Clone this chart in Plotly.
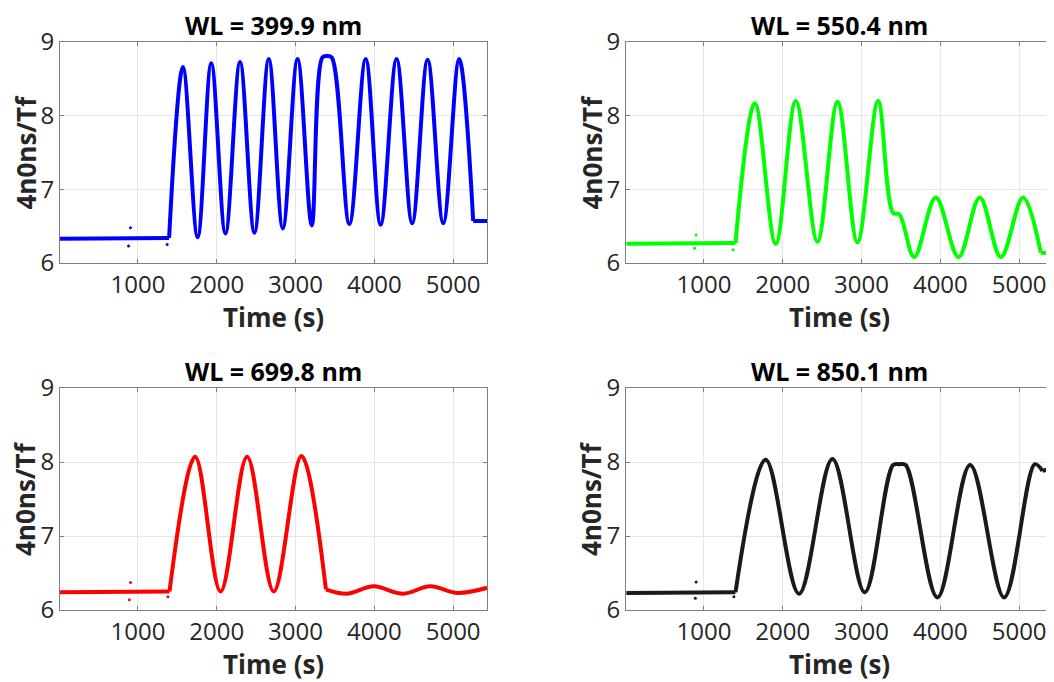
import plotly.graph_objects as go

# ---------------- data ----------------
titles = ["WL = 399.9 nm", "WL = 550.4 nm", "WL = 699.8 nm", "WL = 850.1 nm"]
colors = ["#0000ff", "#00ff00", "#ff0000", "#1a1a1a"]

# flat baseline before the cycling starts
base_t = [[10, 300, 600, 900, 1200, 1395],
          [15, 300, 600, 900, 1200, 1400],
          [10, 300, 600, 900, 1200, 1400],
          [15, 300, 600, 900, 1200, 1400]]
base_v = [[6.33, 6.33, 6.33, 6.33, 6.34, 6.34],
          [6.26, 6.26, 6.26, 6.26, 6.26, 6.27],
          [6.24, 6.24, 6.24, 6.24, 6.24, 6.25],
          [6.23, 6.23, 6.23, 6.23, 6.23, 6.24]]

# oscillating part: peaks and troughs
wave_t = [[1395, 1570, 1757, 1930, 2110, 2295, 2478, 2660, 2838, 3025, 3205,
           3340, 3400, 3460, 3683, 3890, 4080, 4282, 4480, 4676, 4875, 5077, 5255],
          [1400, 1645, 1910, 2165, 2440, 2695, 2948, 3210, 3400, 3480, 3668,
           3942, 4230, 4500, 4768, 5050, 5275],
          [1400, 1725, 2048, 2385, 2723, 3075, 3385],
          [1400, 1783, 2206, 2630, 3040, 3400, 3480, 3560, 3963, 4378, 4810,
           5199, 5296]]
wave_v = [[6.34, 8.66, 6.35, 8.71, 6.40, 8.73, 6.41, 8.77, 6.47, 8.77, 6.51,
           8.79, 8.81, 8.79, 6.53, 8.77, 6.52, 8.77, 6.54, 8.76, 6.54, 8.77, 6.57],
          [6.27, 8.17, 6.26, 8.20, 6.29, 8.19, 6.28, 8.20, 6.68, 6.66, 6.08,
           6.89, 6.08, 6.89, 6.08, 6.89, 6.14],
          [6.25, 8.07, 6.25, 8.07, 6.25, 8.08, 6.28],
          [6.24, 8.03, 6.22, 8.04, 6.24, 7.96, 7.97, 7.96, 6.17, 7.96, 6.17,
           7.97, 7.88]]

# what follows the last cycle
tail_t = [[5255, 5330, 5430],
          [5275, 5350, 5430],
          [3385, 3650, 3990, 4365, 4705, 5060, 5430],
          [5296, 5360, 5430]]
tail_v = [[6.57, 6.57, 6.57],
          [6.14, 6.13, 6.13],
          [6.28, 6.22, 6.32, 6.22, 6.32, 6.23, 6.30],
          [7.88, 7.90, 7.88]]
tail_shape = ["linear", "linear", "spline", "linear"]

# a few stray noise points visible near the baseline
out_t = [[905, 880, 1370], [900, 880, 1370], [905, 890, 1380], [900, 890, 1380]]
out_v = [[6.48, 6.23, 6.25], [6.38, 6.2, 6.18], [6.37, 6.14, 6.18], [6.38, 6.16, 6.18]]

y_ticks = [6, 7, 8, 9]
x_ticks = [1000, 2000, 3000, 4000, 5000]

# ---------------- layout ----------------
OFF = 8                      # page body margin
W, H = 1054 - OFF, 682 - OFF
FONT = "Open Sans"
TXT = "#262626"
# plot-area pixel boxes in window pixels (left, right, top, bottom)
boxes = [(60, 487, 42, 263), (626, 1053, 42, 263),
         (60, 487, 388, 610), (626, 1053, 388, 610)]


def px(x):
    return (x - OFF) / W


def py(y):
    return 1 - (y - OFF) / H


fig = go.Figure()
for i in range(4):
    ax = "" if i == 0 else str(i + 1)
    axes = dict(xaxis="x" + ax, yaxis="y" + ax, showlegend=False, hoverinfo="x+y")
    fig.add_trace(go.Scatter(x=base_t[i], y=base_v[i], mode="lines",
                             line=dict(color=colors[i], width=4), **axes))
    fig.add_trace(go.Scatter(x=wave_t[i], y=wave_v[i], mode="lines",
                             line=dict(color=colors[i], width=4, shape="spline", smoothing=1.0),
                             **axes))
    fig.add_trace(go.Scatter(x=tail_t[i], y=tail_v[i], mode="lines",
                             line=dict(color=colors[i], width=4, shape=tail_shape[i], smoothing=1.0),
                             **axes))
    fig.add_trace(go.Scatter(x=out_t[i], y=out_v[i], mode="markers",
                             marker=dict(color=colors[i], size=3), **axes))
    l, r, t, b = boxes[i]
    common = dict(showline=True, linecolor="#7f7f7f", linewidth=1, mirror="ticks",
                  ticks="inside", ticklen=4, tickcolor="#7f7f7f", automargin=False,
                  showgrid=True, gridcolor="#e6e6e6", gridwidth=1, zeroline=False,
                  tickfont=dict(family=FONT, size=24, color=TXT))
    fig.update_layout({
        "xaxis" + ax: dict(domain=[px(l), px(r)], range=[10, 5430],
                           tickvals=x_ticks, anchor="y" + ax, **common),
        "yaxis" + ax: dict(domain=[py(b), py(t)], range=[6, 9],
                           tickvals=y_ticks, anchor="x" + ax, **common),
    })
    cx = px((l + r) / 2)
    fig.add_annotation(text="<b>" + titles[i] + "</b>", xref="paper", yref="paper",
                       x=cx, y=py(t - 17), showarrow=False,
                       xanchor="center", yanchor="middle",
                       font=dict(family=FONT, size=25, color="black"))
    fig.add_annotation(text="<b>Time (s)</b>", xref="paper", yref="paper",
                       x=cx, y=py(b + 54), showarrow=False,
                       xanchor="center", yanchor="middle",
                       font=dict(family=FONT, size=26, color=TXT))
    fig.add_annotation(text="<b>4n0ns/Tf</b>", xref="paper", yref="paper",
                       x=px(l - 35), y=py((t + b) / 2), showarrow=False, textangle=-90,
                       xanchor="center", yanchor="middle",
                       font=dict(family=FONT, size=26, color=TXT))

fig.update_layout(width=W, height=H, margin=dict(l=0, r=0, t=0, b=0, autoexpand=False),
                  template="none", paper_bgcolor="white", plot_bgcolor="white")
fig.write_html("out.html")
